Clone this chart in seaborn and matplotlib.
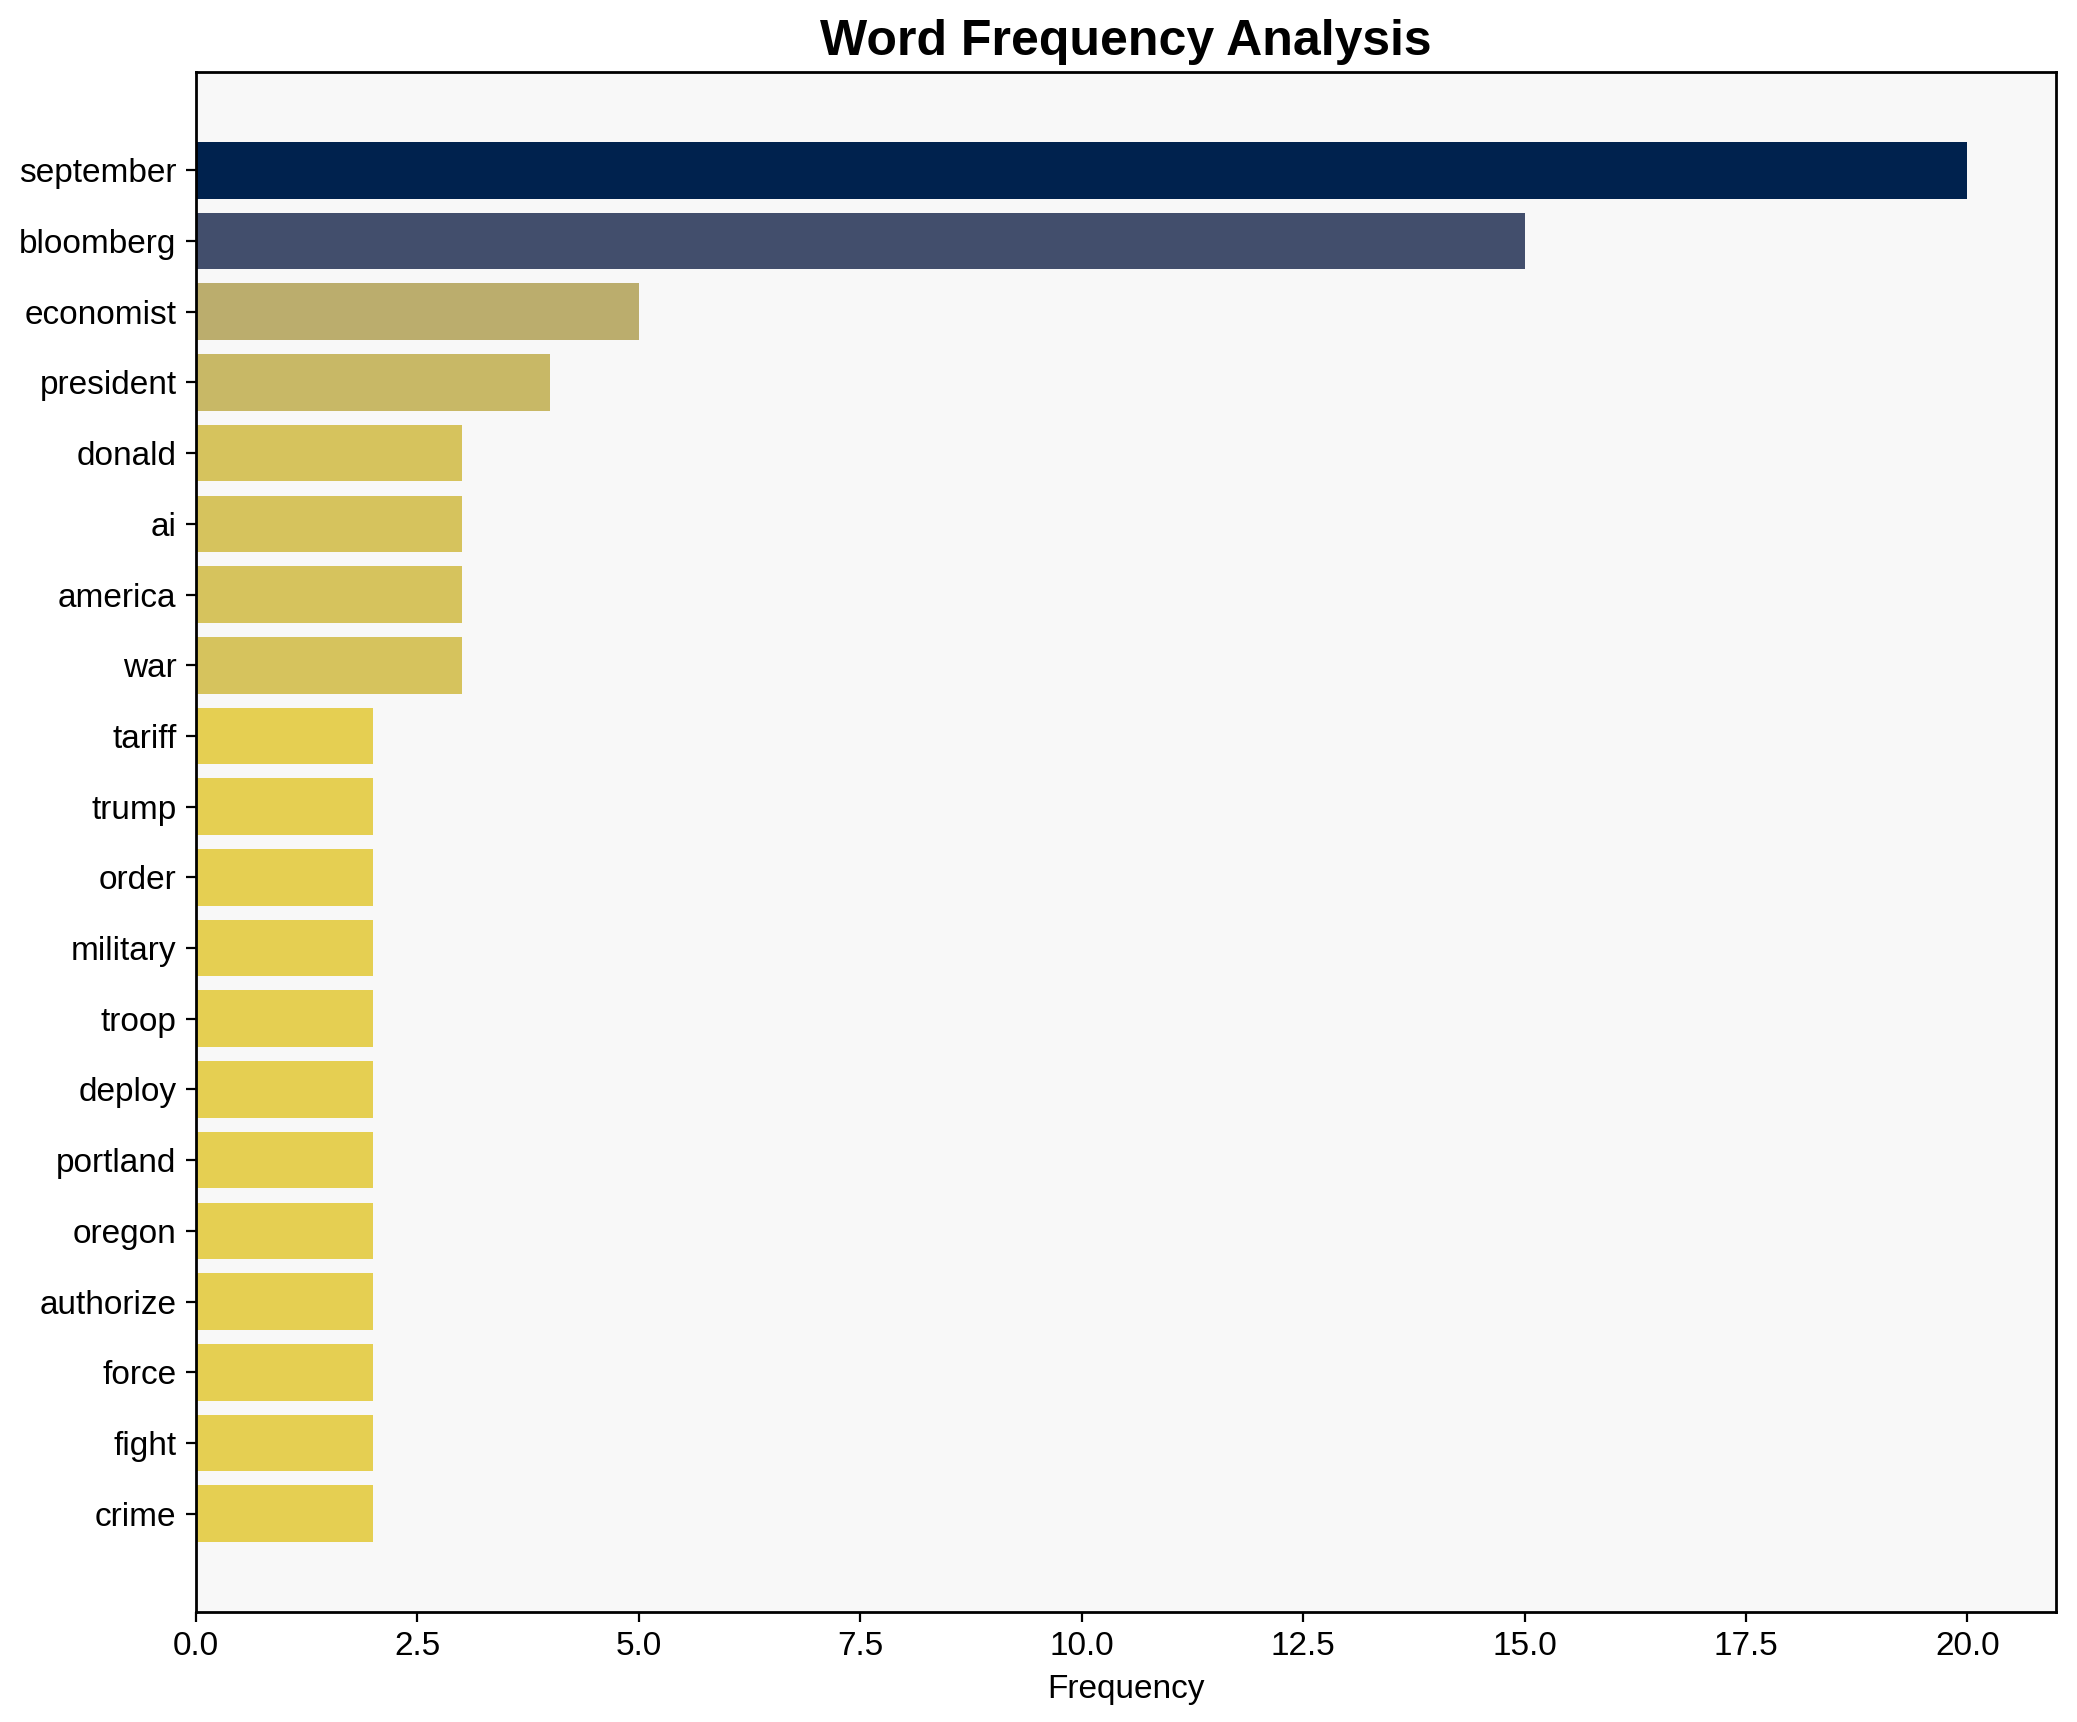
import matplotlib
matplotlib.use("Agg")
import matplotlib.pyplot as plt
import seaborn as sns
import numpy as np

words = ["september", "bloomberg", "economist", "president", "donald", "ai", "america",
         "war", "tariff", "trump", "order", "military", "troop", "deploy", "portland",
         "oregon", "authorize", "force", "fight", "crime"]
freqs = [20, 15, 5, 4, 3, 3, 3, 3, 2, 2, 2, 2, 2, 2, 2, 2, 2, 2, 2, 2]

plt.rcParams['font.family'] = ['Liberation Sans', 'DejaVu Sans']

fig = plt.figure(figsize=(2077/200, 1722/200), dpi=200)
ax = fig.add_axes([196/2077, 1 - 1612/1722, (2056-196)/2077, (1612-72)/1722])
ax.set_facecolor("#f8f8f8")

maxv = max(freqs)
colors = [plt.cm.cividis_r(v / maxv) for v in freqs]

sns.barplot(x=freqs, y=words, hue=words, palette=colors, legend=False,
            orient="h", width=0.8, saturation=1, ax=ax)

n = len(words)
pad = 0.05 * (n - 1 + 0.8)
ax.set_ylim(n - 1 + 0.4 + pad, -0.4 - pad)
ax.set_xlim(0, maxv * 1.05)

ax.set_title("Word Frequency Analysis", fontsize=18, fontweight="bold")
ax.set_xlabel("Frequency", fontsize=12)
ax.set_ylabel("")
ax.tick_params(axis="both", labelsize=12)
for s in ax.spines.values():
    s.set_color("black")
    s.set_linewidth(1)

fig.savefig("out.png", dpi=200)
